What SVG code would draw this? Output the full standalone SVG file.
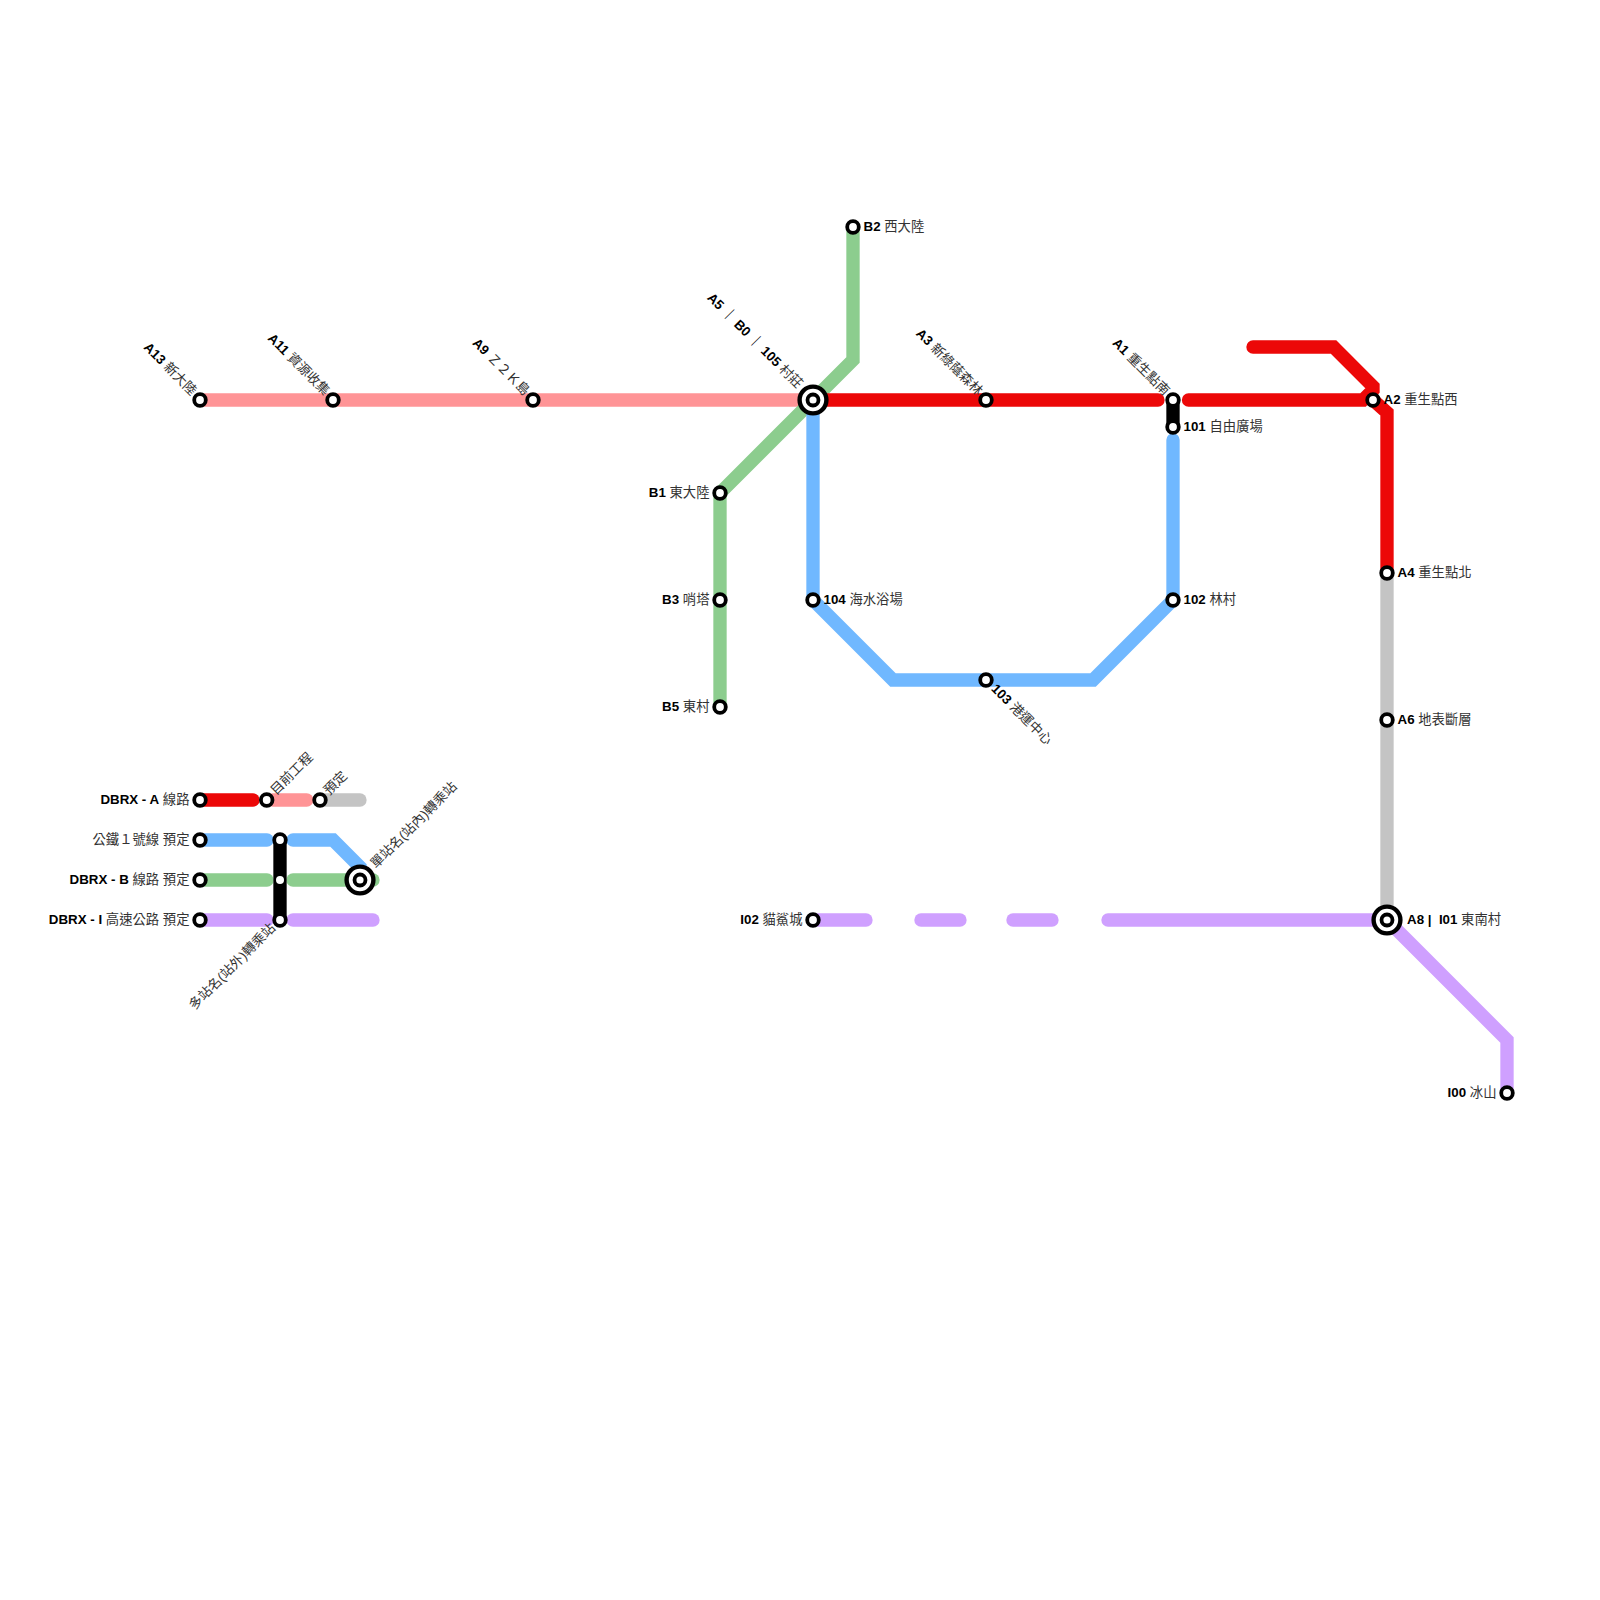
<svg xmlns="http://www.w3.org/2000/svg" width="1600" height="1600" viewBox="0 0 1600 1600">
<style>
text{font-family:"Liberation Sans","Noto Sans CJK TC",sans-serif;font-size:13.33px;fill:#333}
tspan{font-weight:bold;fill:#000}
.l{fill:none;stroke-width:13.33;stroke-linecap:round;stroke-linejoin:miter}
.b{stroke-linecap:butt}
.red{stroke:#ec0808}.pink{stroke:#ff9496}.blue{stroke:#70b8ff}.green{stroke:#8ccd8e}.grey{stroke:#c4c4c4}.purple{stroke:#cfa0ff}.black{stroke:#000}
.st{fill:#fff;stroke:#000;stroke-width:3.8}
.hub1{fill:#fff;stroke:#000;stroke-width:4.4}
.hub2{fill:#fff;stroke:#000;stroke-width:3.8}
.ji{fill:#fff}
.e{text-anchor:end}
</style>
<defs>
<circle id="s" class="st" r="5.8"/>
<g id="h"><circle class="hub1" r="13.4"/><circle class="hub2" r="5.5"/></g>
</defs>
<g id="connectors">
<path class="l pink" d="M200 400H813"/>
<path class="l green" d="M853 227V360L720 493V707"/>
<path class="l blue" d="M813 400V600L893 680H1093L1173 600V440"/>
<path class="l red" d="M813 400H1158"/>
<path class="l red" d="M1253 347H1333.500L1373 386.500V390L1363 400H1188.500"/>
<path class="l red b" d="M1373 400L1387 412.500V573"/>
<path class="l black" d="M1173 400V427"/>
<path class="l grey" d="M1387 573V920"/>
<path class="l purple" d="M813 920H866"/>
<path class="l purple" d="M921 920H960"/>
<path class="l purple" d="M1013 920H1052"/>
<path class="l purple" d="M1108 920H1387L1507 1040V1093"/>
<path class="l red" d="M200 800H253"/>
<path class="l pink" d="M273 800H306.700"/>
<path class="l grey" d="M320 800H360"/>
<path class="l green" d="M200 880H267"/>
<path class="l green" d="M293 880H373"/>
<path class="l blue" d="M200 840H267"/>
<path class="l blue" d="M293 840H333L360 867V880"/>
<path class="l purple" d="M200 920H267"/>
<path class="l purple" d="M293 920H373"/>
<path class="l black" d="M280 840V920"/>
</g>
<g id="n-A13" transform="translate(200,400)"><use href="#s"/><text class="e" transform="rotate(45)" x="-9" y="3.500"><tspan>A13</tspan> 新大陸</text></g>
<g id="n-A11" transform="translate(333,400)"><use href="#s"/><text class="e" transform="rotate(45)" x="-9" y="3.500"><tspan>A11</tspan> 資源收集</text></g>
<g id="n-A9" transform="translate(533,400)"><use href="#s"/><text class="e" transform="rotate(45)" x="-9" y="3.500"><tspan>A9</tspan> Ｚ２Ｋ島</text></g>
<g id="n-A5" transform="translate(813,400)"><use href="#h"/><text class="e" transform="rotate(45)" x="-19" y="3.500"><tspan>A5 ｜ B0 ｜ 105</tspan> 村莊</text></g>
<g id="n-A3" transform="translate(986,400)"><use href="#s"/><text class="e" transform="rotate(45)" x="-9" y="3.500"><tspan>A3</tspan> 新綠蔭森林</text></g>
<g id="n-A1" transform="translate(1173,400)"><use href="#s"/><text class="e" transform="rotate(45)" x="-9" y="3.500"><tspan>A1</tspan> 重生點南</text></g>
<g id="n-101" transform="translate(1173,427)"><use href="#s"/><text x="10.500" y="3.500"><tspan>101</tspan> 自由廣場</text></g>
<g id="n-A2" transform="translate(1373,400)"><use href="#s"/><text x="10.500" y="3.500"><tspan>A2</tspan> 重生點西</text></g>
<g id="n-A4" transform="translate(1387,573)"><use href="#s"/><text x="10.500" y="3.500"><tspan>A4</tspan> 重生點北</text></g>
<g id="n-A6" transform="translate(1387,720)"><use href="#s"/><text x="10.500" y="3.500"><tspan>A6</tspan> 地表斷層</text></g>
<g id="n-A8" transform="translate(1387,920)"><use href="#h"/><text x="20" y="3.500"><tspan>A8 |&#160; I01</tspan> 東南村</text></g>
<g id="n-I00" transform="translate(1507,1093)"><use href="#s"/><text class="e" x="-10.500" y="3.500"><tspan>I00</tspan> 冰山</text></g>
<g id="n-I02" transform="translate(813,920)"><use href="#s"/><text class="e" x="-10.500" y="3.500"><tspan>I02</tspan> 貓鯊城</text></g>
<g id="n-B2" transform="translate(853,227)"><use href="#s"/><text x="10.500" y="3.500"><tspan>B2</tspan> 西大陸</text></g>
<g id="n-B1" transform="translate(720,493)"><use href="#s"/><text class="e" x="-10.500" y="3.500"><tspan>B1</tspan> 東大陸</text></g>
<g id="n-B3" transform="translate(720,600)"><use href="#s"/><text class="e" x="-10.500" y="3.500"><tspan>B3</tspan> 哨塔</text></g>
<g id="n-B5" transform="translate(720,707)"><use href="#s"/><text class="e" x="-10.500" y="3.500"><tspan>B5</tspan> 東村</text></g>
<g id="n-104" transform="translate(813,600)"><use href="#s"/><text x="10.500" y="3.500"><tspan>104</tspan> 海水浴場</text></g>
<g id="n-102" transform="translate(1173,600)"><use href="#s"/><text x="10.500" y="3.500"><tspan>102</tspan> 林村</text></g>
<g id="n-103" transform="translate(986,680)"><use href="#s"/><text transform="rotate(45)" x="10" y="3.500"><tspan>103</tspan> 港運中心</text></g>
<g id="lg-A" transform="translate(200,800)"><use href="#s"/><text class="e" x="-10.500" y="3.500"><tspan>DBRX - A</tspan> 線路</text></g>
<g id="lg-now" transform="translate(266.700,800)"><use href="#s"/><text transform="rotate(-45)" x="9.500" y="3.500">目前工程</text></g>
<g id="lg-plan" transform="translate(320,800)"><use href="#s"/><text transform="rotate(-45)" x="9.500" y="3.500">預定</text></g>
<g id="lg-1" transform="translate(200,840)"><use href="#s"/><text class="e" x="-10.500" y="3.500">公鐵１號線 預定</text></g>
<g id="lg-B" transform="translate(200,880)"><use href="#s"/><text class="e" x="-10.500" y="3.500"><tspan>DBRX - B</tspan> 線路 預定</text></g>
<g id="lg-I" transform="translate(200,920)"><use href="#s"/><text class="e" x="-10.500" y="3.500"><tspan>DBRX - I</tspan> 高速公路 預定</text></g>
<g id="lg-j1" transform="translate(280,840)"><use href="#s"/></g>
<g id="lg-j2" transform="translate(280,880)"><circle class="ji" r="4"/></g>
<g id="lg-j3" transform="translate(280,920)"><use href="#s"/><text class="e" transform="rotate(-45)" x="-9" y="3.500">多站名(站外)轉乘站</text></g>
<g id="lg-hub" transform="translate(360,880)"><use href="#h"/><text transform="rotate(-45)" x="19" y="3.500">單站名(站內)轉乘站</text></g>
</svg>
